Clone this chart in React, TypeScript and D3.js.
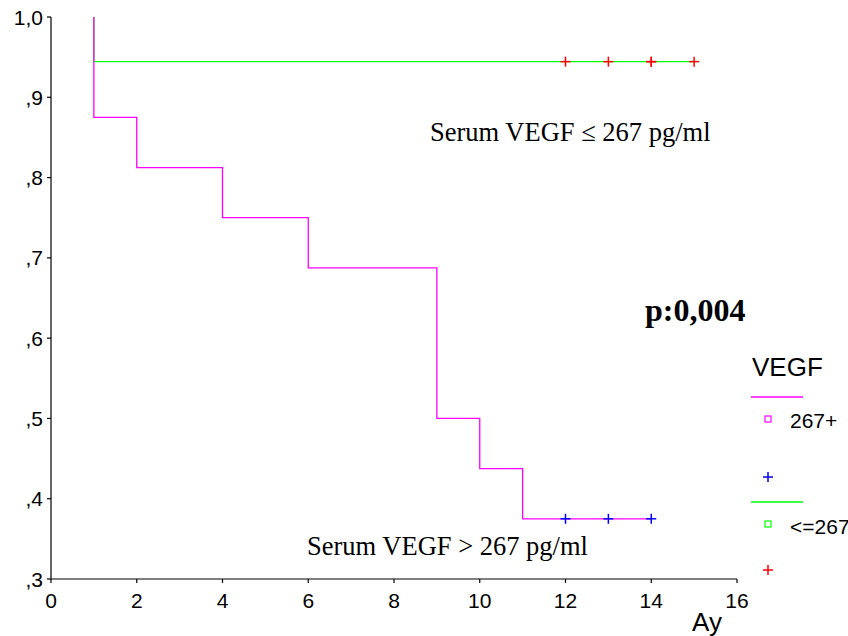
import * as d3 from "d3";

// survival steps: [time, survival]
const highSteps: [number, number][] = [
  [1, 1.0], [1, 0.875], [2, 0.8125], [4, 0.75], [6, 0.6875],
  [9, 0.5], [10, 0.4375], [11, 0.375], [14, 0.375],
];
const lowSteps: [number, number][] = [
  [1, 1.0], [1, 0.9444], [15, 0.9444],
];
const highCensored = [12, 13, 14];
const lowCensored = [12, 13, 14, 14, 15];
const highCensorVal = 0.375;
const lowCensorVal = 0.9444;

const xTicks = [0, 2, 4, 6, 8, 10, 12, 14, 16];
const yTicks = [0.3, 0.4, 0.5, 0.6, 0.7, 0.8, 0.9, 1.0];
const yLabel = (v: number) => (v === 1 ? "1,0" : "," + Math.round(v * 10));

const MAGENTA = "#ff00ff";
const GREEN = "#00ff00";
const BLUE = "#0000ff";
const RED = "#ff0000";

export default function App() {
  const W = 848, H = 636;
  const x = d3.scaleLinear().domain([0, 16]).range([51, 737]);
  const y = d3.scaleLinear().domain([0.3, 1.0]).range([579, 17]);

  const step = d3.line<[number, number]>()
    .x((d) => x(d[0]))
    .y((d) => y(d[1]))
    .curve(d3.curveStepAfter);

  const plus = (cx: number, cy: number, color: string, k: string, s = 5) => (
    <g key={k} stroke={color} strokeWidth={1.5}>
      <line x1={cx - s} x2={cx + s} y1={cy} y2={cy} />
      <line x1={cx} x2={cx} y1={cy - s} y2={cy + s} />
    </g>
  );

  return (
    <svg width={W} height={H} style={{ position: "absolute", left: 0, top: 0, background: "#fff" }}>
      {/* axes */}
      <g stroke="#000" strokeWidth={1.2} fill="none">
        <line x1={x(0)} x2={x(0)} y1={y(1)} y2={y(0.3)} />
        <line x1={x(0)} x2={x(16)} y1={y(0.3)} y2={y(0.3)} />
        {yTicks.map((t) => (
          <line key={"yt" + t} x1={x(0) - 4} x2={x(0)} y1={y(t)} y2={y(t)} />
        ))}
        {xTicks.map((t) => (
          <line key={"xt" + t} x1={x(t)} x2={x(t)} y1={y(0.3)} y2={y(0.3) + 4} />
        ))}
      </g>
      <g fontFamily="Arial, 'Liberation Sans', sans-serif" fontSize={21} fill="#000">
        {yTicks.map((t) => (
          <text key={"yl" + t} x={x(0) - 8} y={y(t)} dy="0.36em" textAnchor="end">{yLabel(t)}</text>
        ))}
        {xTicks.map((t) => (
          <text key={"xl" + t} x={x(t)} y={608} textAnchor="middle">{t}</text>
        ))}
        <text x={707} y={631} fontSize={26} textAnchor="middle">Ay</text>
      </g>

      {/* curves */}
      <path d={step(lowSteps) ?? ""} fill="none" stroke={GREEN} strokeWidth={1.3} />
      <path d={step(highSteps) ?? ""} fill="none" stroke={MAGENTA} strokeWidth={1.3} />
      {lowCensored.map((t, i) => plus(x(t), y(lowCensorVal), RED, "lc" + i))}
      {highCensored.map((t, i) => plus(x(t), y(highCensorVal), BLUE, "hc" + i))}

      {/* annotations */}
      <g fontFamily="'Times New Roman', 'Liberation Serif', serif" fill="#000">
        <text x={430} y={141} fontSize={26.5}>Serum VEGF ≤ 267 pg/ml</text>
        <text x={307} y={555} fontSize={26.5}>Serum VEGF &gt; 267 pg/ml</text>
        <text x={645} y={321} fontSize={32} fontWeight="bold">p:0,004</text>
      </g>

      {/* legend */}
      <g fontFamily="Arial, 'Liberation Sans', sans-serif" fill="#000">
        <text x={752} y={376} fontSize={26}>VEGF</text>
        <line x1={751} x2={803} y1={397} y2={397} stroke={MAGENTA} strokeWidth={1.3} />
        <rect x={765} y={416} width={6} height={6} fill="none" stroke={MAGENTA} strokeWidth={1.2} />
        <text x={790} y={428} fontSize={21}>267+</text>
        {plus(768, 477, BLUE, "lb", 5)}
        <line x1={751} x2={803} y1={502} y2={502} stroke={GREEN} strokeWidth={1.3} />
        <rect x={765} y={521} width={6} height={6} fill="none" stroke={GREEN} strokeWidth={1.2} />
        <text x={790} y={534} fontSize={21}>&lt;=267</text>
        {plus(768, 570, RED, "lr", 5)}
      </g>
    </svg>
  );
}
